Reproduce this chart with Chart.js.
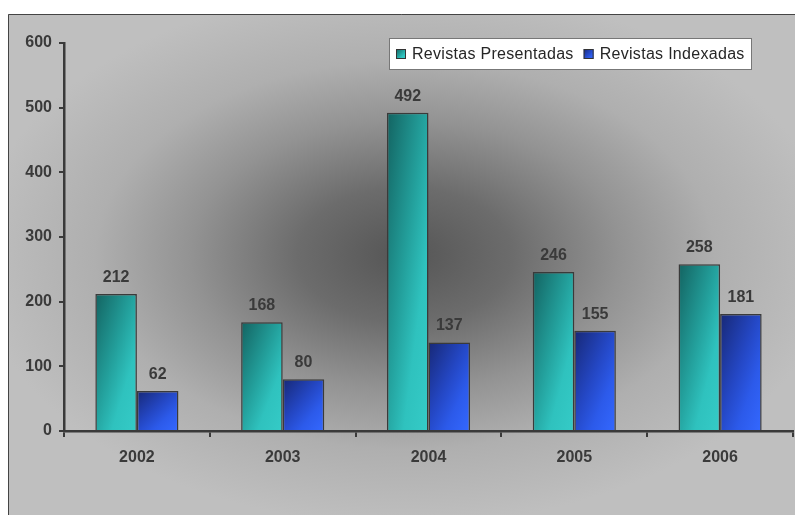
<!DOCTYPE html>
<html>
<head>
<meta charset="utf-8">
<script src="https://cdn.jsdelivr.net/npm/chart.js@4.4.0/dist/chart.umd.min.js"></script>
<style>
  html, body { margin: 0; padding: 0; background: #fff; }
  canvas { display: block; }
</style>
</head>
<body>
<canvas id="chart" width="795" height="515"></canvas>
<script>
// --- DATA ---
const years = ['2002', '2003', '2004', '2005', '2006'];
const presentadas = [212, 168, 492, 246, 258];
const indexadas = [62, 80, 137, 155, 181];
const seriesNames = ['Revistas Presentadas', 'Revistas Indexadas'];
const yMax = 600;
const yStep = 100;

// --- STYLE ---
const FONT = "'Liberation Sans', Arial, Helvetica, sans-serif";
const AXIS_COLOR = '#3a3a3a';
const tealStops = [[0, '#136361'], [0.45, '#23a09c'], [0.7, '#2fc2be'], [1, '#35cbc7']];
const blueStops = [[0, '#172876'], [0.45, '#2447c4'], [0.7, '#2c5aea'], [1, '#3468ff']];
const seriesStops = [tealStops, blueStops];

// diagonal gradient, normalised to the box (top-left -> bottom-right)
const diagGradient = (ctx, x, y, w, h, stops) => {
    const s = (2 * w * h) / (w * w + h * h || 1);
    const g = ctx.createLinearGradient(x, y, x + s * h, y + s * w);
    stops.forEach(([o, c]) => g.addColorStop(o, c));
    return g;
};

// soft elliptical gradient behind the plot, dark in the middle
const bgStops = [[0, '#555555'], [0.25, '#6c6c6c'], [0.5, '#939393'], [0.72, '#afafaf'], [1, '#bfbfbf']];

const backgroundPlugin = {
    id: 'background',
    beforeDraw(chart) {
        const ctx = chart.ctx;
        ctx.save();
        ctx.fillStyle = '#ffffff';
        ctx.fillRect(0, 0, chart.width, chart.height);
        ctx.fillStyle = '#bfbfbf';
        ctx.fillRect(8, 14, chart.width - 8, chart.height - 14);

        // ellipse: scale the y axis so a circular gradient becomes oval
        const cx = 405, cy = 255, rx = 430, ry = 270;
        ctx.save();
        ctx.beginPath();
        ctx.rect(9, 15, chart.width - 9, chart.height - 15);
        ctx.clip();
        ctx.translate(cx, cy);
        ctx.scale(1, ry / rx);
        const g = ctx.createRadialGradient(0, 0, 0, 0, 0, rx);
        bgStops.forEach(([o, c]) => g.addColorStop(o, c));
        ctx.fillStyle = g;
        ctx.fillRect(-rx, -rx, rx * 2, rx * 2);
        ctx.restore();

        ctx.strokeStyle = '#444444';
        ctx.lineWidth = 1;
        ctx.beginPath();
        ctx.moveTo(8.5, chart.height);
        ctx.lineTo(8.5, 14.5);
        ctx.lineTo(chart.width, 14.5);
        ctx.stroke();
        ctx.restore();
    }
};

// per-bar diagonal gradients (copy the options so bars don't share one)
const barGradientPlugin = {
    id: 'barGradient',
    beforeDatasetsDraw(chart) {
        const ctx = chart.ctx;
        chart.data.datasets.forEach((ds, di) => {
            chart.getDatasetMeta(di).data.forEach(bar => {
                const w = bar.width, h = bar.base - bar.y;
                const opts = Object.assign({}, bar.options);
                opts.backgroundColor = diagGradient(ctx, bar.x - w / 2, bar.y, w, h, seriesStops[di]);
                bar.options = opts;
            });
        });
    }
};

// value labels above the bars
const valueLabelPlugin = {
    id: 'valueLabels',
    afterDatasetsDraw(chart) {
        const ctx = chart.ctx;
        ctx.save();
        ctx.font = 'bold 16px ' + FONT;
        ctx.fillStyle = AXIS_COLOR;
        ctx.textAlign = 'center';
        ctx.textBaseline = 'alphabetic';
        chart.data.datasets.forEach((ds, di) => {
            chart.getDatasetMeta(di).data.forEach((bar, i) => {
                ctx.fillText(String(ds.data[i]), bar.x, bar.y - 12);
            });
        });
        ctx.restore();
    }
};

// boxed legend inside the plot
const legendPlugin = {
    id: 'boxLegend',
    afterDraw(chart) {
        const ctx = chart.ctx;
        ctx.save();
        ctx.fillStyle = '#ffffff';
        ctx.fillRect(389.5, 38.5, 362, 31);
        ctx.strokeStyle = '#777777';
        ctx.lineWidth = 1;
        ctx.strokeRect(389.5, 38.5, 362, 31);
        ctx.font = '16px ' + FONT;
        ctx.letterSpacing = '0.3px';
        ctx.textBaseline = 'alphabetic';
        ctx.textAlign = 'left';
        let x = 396;
        chart.data.datasets.forEach((ds, di) => {
            ctx.fillStyle = diagGradient(ctx, x, 49, 10, 10, seriesStops[di]);
            ctx.fillRect(x, 49, 10, 10);
            ctx.strokeStyle = '#333333';
            ctx.strokeRect(x + 0.5, 49.5, 9, 9);
            ctx.fillStyle = '#262626';
            ctx.fillText(ds.label, x + 16, 59);
            x += 16 + ctx.measureText(ds.label).width + 10;
        });
        ctx.restore();
    }
};

Chart.defaults.font.family = FONT;

new Chart(document.getElementById('chart'), {
    type: 'bar',
    data: {
        labels: years,
        datasets: [
            { label: seriesNames[0], data: presentadas, backgroundColor: '#2ab0ac', borderColor: '#3a3a3a' },
            { label: seriesNames[1], data: indexadas, backgroundColor: '#2a52d6', borderColor: '#3a3a3a' }
        ]
    },
    options: {
        responsive: false,
        animation: false,
        layout: { padding: { top: 43, right: 2, left: 0, bottom: 0 } },
        datasets: {
            bar: {
                categoryPercentage: 0.57,
                barPercentage: 1,
                borderWidth: 1.5
            }
        },
        plugins: {
            colors: { enabled: false },
            legend: { display: false },
            tooltip: { enabled: false }
        },
        scales: {
            x: {
                afterFit: (scale) => { scale.height = 84; },
                grid: {
                    offset: true,
                    drawOnChartArea: false,
                    drawTicks: true,
                    tickLength: 6,
                    color: AXIS_COLOR,
                    lineWidth: 2
                },
                border: { color: AXIS_COLOR, width: 2.5 },
                ticks: {
                    color: AXIS_COLOR,
                    font: { size: 16, weight: 'bold' },
                    padding: 11,
                    maxRotation: 0
                }
            },
            y: {
                min: 0,
                max: yMax,
                afterFit: (scale) => { scale.width = 64; },
                grid: {
                    drawOnChartArea: false,
                    drawTicks: true,
                    tickLength: 5,
                    color: AXIS_COLOR,
                    lineWidth: 2
                },
                border: { color: AXIS_COLOR, width: 2.5 },
                ticks: {
                    stepSize: yStep,
                    color: AXIS_COLOR,
                    font: { size: 16, weight: 'bold' },
                    padding: 7
                }
            }
        }
    },
    plugins: [backgroundPlugin, barGradientPlugin, valueLabelPlugin, legendPlugin]
});
</script>
</body>
</html>
